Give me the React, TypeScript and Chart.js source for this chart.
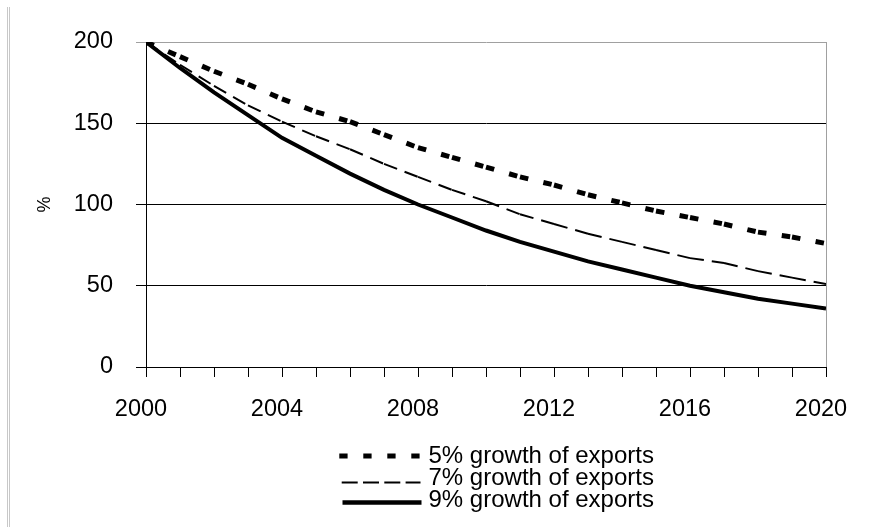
import { useEffect, useRef } from 'react';
import { Chart, registerables } from 'chart.js';

Chart.register(...registerables);

const years = [2000, 2001, 2002, 2003, 2004, 2005, 2006, 2007, 2008, 2009, 2010, 2011, 2012, 2013, 2014, 2015, 2016, 2017, 2018, 2019, 2020];
const growth5 = [200, 191, 182, 174, 165, 157, 151, 143, 135, 129, 123, 117, 112, 106, 101, 96, 92, 88, 83, 80, 76];
const growth7 = [200, 186, 173, 161, 151, 142, 134, 125, 117, 109, 102, 94, 88, 82, 77, 72, 67, 64, 59, 55, 51];
const growth9 = [200, 184, 169, 155, 141, 130, 119, 109, 100, 92, 84, 77, 71, 65, 60, 55, 50, 46, 42, 39, 36];
const seriesLabels = ['5% growth of exports', '7% growth of exports', '9% growth of exports'];
const labelEvery = 4;
const yAxisTitle = '%';

const FONT = '"Liberation Sans", Arial, sans-serif';

const legendSamples = [
  { width: 5, dash: [8.3, 15.7], x0: 339.3, x1: 419.8, y: 456 },
  { width: 2, dash: [16, 5.3], x0: 341.7, x1: 420.5, y: 482.5 },
  { width: 4.5, dash: [] as number[], x0: 342.5, x1: 421.5, y: 502.5 },
];
const legendRows = [456.5, 478.5, 500];

// restart the dash pattern at every data segment (as the original does)
const perSegment = (ctx: any) => (ctx.p0DataIndex % 2 === 0 ? 0 : 0.0001);

const decorPlugin = {
  id: 'decor',
  afterDraw(chart: any) {
    const { ctx, chartArea } = chart;
    ctx.save();
    ctx.strokeStyle = '#a0a0a0';
    ctx.lineWidth = 1;
    const xr = Math.round(chartArea.right) + 0.5;
    ctx.beginPath();
    ctx.moveTo(xr, chartArea.top);
    ctx.lineTo(xr, chartArea.bottom);
    ctx.stroke();
    ctx.strokeStyle = '#c8c8c8';
    [7.5, 9.5].forEach((x) => {
      ctx.beginPath();
      ctx.moveTo(x, 7);
      ctx.lineTo(x, 527);
      ctx.stroke();
    });
    ctx.font = '24px ' + FONT;
    ctx.fillStyle = '#000';
    ctx.textBaseline = 'middle';
    ctx.textAlign = 'left';
    seriesLabels.forEach((label, i) => {
      const s = legendSamples[i];
      ctx.strokeStyle = '#000';
      ctx.lineWidth = s.width;
      ctx.lineCap = 'butt';
      ctx.setLineDash(s.dash);
      ctx.beginPath();
      ctx.moveTo(s.x0, s.y);
      ctx.lineTo(s.x1, s.y);
      ctx.stroke();
      ctx.setLineDash([]);
      ctx.fillText(label, 428.5, legendRows[i]);
    });
    ctx.restore();
  },
};

export default function App() {
  const ref = useRef<HTMLCanvasElement | null>(null);

  useEffect(() => {
    if (!ref.current) return;
    const mk = (vals: number[]) => vals.map((v, i) => ({ x: years[i], y: v }));
    const chart = new Chart(ref.current, {
      type: 'line',
      data: {
        datasets: [
          {
            label: seriesLabels[0],
            data: mk(growth5),
            borderColor: '#000',
            borderWidth: 5,
            borderDash: [8.5, 15.5],
            borderCapStyle: 'butt',
            segment: { borderDashOffset: perSegment },
            pointRadius: 0,
            tension: 0,
          },
          {
            label: seriesLabels[1],
            data: mk(growth7),
            borderColor: '#000',
            borderWidth: 2,
            borderDash: [14, 8],
            borderCapStyle: 'butt',
            segment: { borderDashOffset: perSegment },
            pointRadius: 0,
            tension: 0,
          },
          {
            label: seriesLabels[2],
            data: mk(growth9),
            borderColor: '#000',
            borderWidth: 4,
            borderCapStyle: 'butt',
            pointRadius: 0,
            tension: 0,
          },
        ],
      },
      options: {
        animation: false,
        responsive: true,
        maintainAspectRatio: false,
        devicePixelRatio: 1,
        layout: { padding: { left: 0, top: 42, right: 62, bottom: 0 } },
        plugins: { legend: { display: false }, tooltip: { enabled: false } },
        scales: {
          x: {
            type: 'linear',
            min: years[0],
            max: years[years.length - 1],
            afterFit: (s: any) => { s.height = 160; },
            border: { color: '#000', width: 1 },
            grid: { drawOnChartArea: false, drawTicks: true, tickLength: 10, color: '#000' },
            ticks: {
              stepSize: 1,
              autoSkip: false,
              maxRotation: 0,
              maxTicksLimit: 100,
              padding: 18,
              labelOffset: -5,
              color: '#000',
              font: { family: FONT, size: 23.5 },
              callback: (v: any) => (Number(v) % labelEvery === 0 ? String(v) : ''),
            },
          },
          y: {
            min: 0,
            max: 200,
            afterFit: (s: any) => { s.width = 146; },
            border: { color: '#000', width: 1 },
            grid: {
              drawTicks: true,
              tickLength: 10,
              color: (c: any) => (c.tick && c.tick.value === 200 ? '#a0a0a0' : '#000'),
            },
            ticks: {
              stepSize: 50,
              padding: 23,
              color: '#000',
              font: { family: FONT, size: 23.5 },
            },
            title: {
              display: true,
              text: yAxisTitle,
              color: '#000',
              font: { family: FONT, size: 18 },
              padding: { top: 34, bottom: 0 },
            },
          },
        },
      },
      plugins: [decorPlugin],
    });
    return () => chart.destroy();
  }, []);

  return (
    <div style={{ position: 'absolute', left: 0, top: 0, width: 888, height: 527 }}>
      <canvas ref={ref} />
    </div>
  );
}
